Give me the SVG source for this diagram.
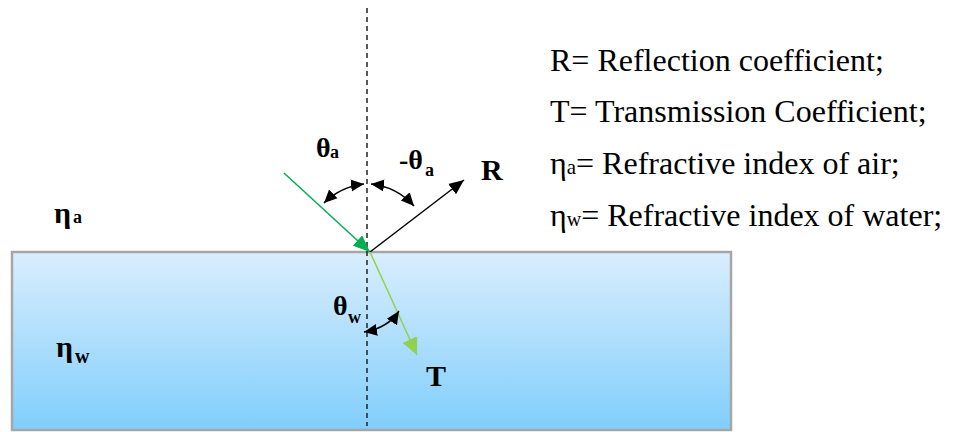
<svg xmlns="http://www.w3.org/2000/svg" width="953" height="432" viewBox="0 0 953 432">
<style>
.lbl{font-weight:bold;fill:#000}
.leg{font-size:32px;fill:#000}
.arc{fill:none;stroke:#000;stroke-width:1.5;marker-start:url(#ah);marker-end:url(#ah)}
</style>
<defs>
<linearGradient id="water" x1="0" y1="0" x2="0" y2="1">
<stop offset="0" stop-color="#daeefd"/>
<stop offset="1" stop-color="#80cefc"/>
</linearGradient>
<marker id="ah" markerUnits="userSpaceOnUse" markerWidth="14" markerHeight="14" viewBox="0 0 14 14" refX="13" refY="7" orient="auto-start-reverse">
<path d="M0,1 L13,7 L0,13 Z" fill="#000"/>
</marker>
<marker id="agreen" markerUnits="userSpaceOnUse" markerWidth="18" markerHeight="14" viewBox="0 0 18 14" refX="17" refY="7" orient="auto">
<path d="M0,0 L17,7 L0,14 Z" fill="#00b050"/>
</marker>
<marker id="ablack" markerUnits="userSpaceOnUse" markerWidth="16" markerHeight="14" viewBox="0 0 16 14" refX="15" refY="7" orient="auto">
<path d="M0,0.5 L15,7 L0,13.5 Z" fill="#000"/>
</marker>
<marker id="alight" markerUnits="userSpaceOnUse" markerWidth="18" markerHeight="16" viewBox="0 0 18 16" refX="17" refY="8" orient="auto">
<path d="M0,0 L17,8 L0,16 Z" fill="#92d050"/>
</marker>
</defs>
<g id="water-block">
<rect x="12" y="252" width="719" height="178" fill="url(#water)" stroke="#a6a6a6" stroke-width="2.5"/>
</g>
<g id="connectors">
<line id="normal" x1="367" y1="8" x2="367" y2="426" stroke="#222" stroke-width="1.5" stroke-dasharray="5 4"/>
<line id="incident" x1="284" y1="173" x2="370" y2="252" stroke="#00b050" stroke-width="1.5" marker-end="url(#agreen)"/>
<line id="reflected" x1="370" y1="252" x2="464" y2="180" stroke="#000" stroke-width="1.5" marker-end="url(#ablack)"/>
<line id="transmitted" x1="370" y1="252" x2="417" y2="355" stroke="#92d050" stroke-width="1.5" marker-end="url(#alight)"/>
<path id="arc-theta-a" class="arc" d="M324,203 A68,68 0 0 1 364,184"/>
<path id="arc-minus-theta-a" class="arc" d="M371,184 A68,68 0 0 1 414,206"/>
<path id="arc-theta-w" class="arc" d="M364,332 Q388,328 399,311"/>
</g>
<g font-family="Liberation Serif, Times New Roman, DejaVu Serif, serif">
<g id="label-theta-a">
<text class="lbl" x="316" y="157" font-size="28">θ<tspan font-size="18" x="330" y="158">a</tspan></text>
</g>
<g id="label-minus-theta-a">
<text class="lbl" x="399" y="169" font-size="28">-θ<tspan font-size="18" x="425" y="176">a</tspan></text>
</g>
<g id="label-theta-w">
<text class="lbl" x="333" y="315" font-size="28">θ<tspan font-size="18" x="348" y="323">w</tspan></text>
</g>
<g id="label-R">
<text class="lbl" x="481" y="180" font-size="30">R</text>
</g>
<g id="label-T">
<text class="lbl" x="426" y="386" font-size="30">T</text>
</g>
<g id="label-eta-a">
<text class="lbl" x="54" y="223" font-size="30">η<tspan font-size="18" x="73" y="223">a</tspan></text>
</g>
<g id="label-eta-w">
<text class="lbl" x="56" y="357" font-size="30">η<tspan font-size="20" x="75" y="363">w</tspan></text>
</g>
<g id="legend">
<text class="leg" x="550" y="71">R= Reflection coefficient;</text>
<text class="leg" x="550" y="122">T= Transmission Coefficient;</text>
<text class="leg" x="550" y="174">η<tspan font-size="21">a</tspan>= Refractive index of air;</text>
<text class="leg" x="550" y="226">η<tspan font-size="20">w</tspan>= Refractive index of water;</text>
</g>
</g>
</svg>
